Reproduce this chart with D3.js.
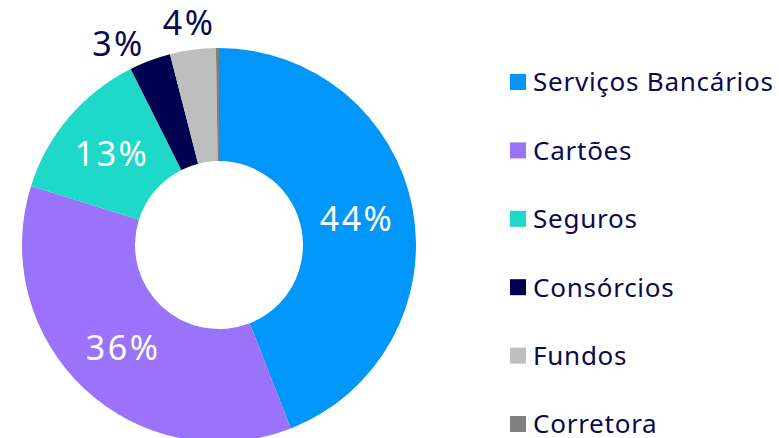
<!DOCTYPE html>
<html>
<head>
    <meta charset="utf-8">
    <script src="https://cdnjs.cloudflare.com/ajax/libs/d3/7.8.5/d3.min.js"></script>
    <style>
        body { margin: 0; background: #fff; }
        text { font-family: "Noto Sans", sans-serif; fill: #0a0a50; }
    </style>
</head>
<body>
    <div id="chart"></div>
    <script>
        // data
        const categories = ["Serviços Bancários", "Cartões", "Seguros", "Consórcios", "Fundos", "Corretora"];
        const shares = [44.05, 35.8, 12.75, 3.4, 3.75, 0.25];
        const labels = ["44%", "36%", "13%", "3%", "4%", ""];
        const colors = ["#0096fa", "#9b72fa", "#1ed8c8", "#000050", "#bebebe", "#808080"];

        const width = 779, height = 438;
        const cx = 219, cy = 245;
        const outerR = 197, innerR = 84;

        const svg = d3.select("#chart").append("svg")
            .attr("width", width)
            .attr("height", height);

        const data = categories.map((c, i) => ({name: c, value: shares[i], label: labels[i], color: colors[i]}));

        const pie = d3.pie().sort(null).value(d => d.value);
        const arc = d3.arc().innerRadius(innerR).outerRadius(outerR);
        const outerArc = d3.arc().innerRadius(224).outerRadius(224);

        const g = svg.append("g").attr("transform", `translate(${cx},${cy})`);
        const arcs = pie(data);

        g.selectAll("path")
            .data(arcs)
            .enter().append("path")
            .attr("d", arc)
            .attr("fill", d => d.data.color);

        // labels: inside for big slices, outside for small ones
        // (the outside one next to Seguros sits a bit further left, like the original)
        g.selectAll("text.lbl")
            .data(arcs.filter(d => d.data.label))
            .enter().append("text")
            .attr("class", "lbl")
            .attr("transform", d => {
                let p;
                if (d.data.value > 8) p = arc.centroid(d);
                else {
                    p = outerArc.centroid(d);
                    if (d.index === 3) p = [p[0] - 22, p[1] + 9];
                }
                return `translate(${p[0]},${p[1]})`;
            })
            .attr("text-anchor", "middle")
            .attr("dy", "0.36em")
            .style("font-size", "34px")
            .style("letter-spacing", "2.5px")
            .style("fill", d => d.data.value > 8 ? "#fff" : "#0a0a50")
            .text(d => d.data.label);

        // legend
        const legend = svg.append("g").attr("transform", "translate(510,82)");
        const item = legend.selectAll("g")
            .data(data)
            .enter().append("g")
            .attr("transform", (d, i) => `translate(0,${i * 68.4})`);

        item.append("rect")
            .attr("x", 0).attr("y", -8)
            .attr("width", 16).attr("height", 16)
            .attr("fill", d => d.color);

        item.append("text")
            .attr("x", 23)
            .attr("dy", "0.36em")
            .style("font-size", "26px")
            .style("letter-spacing", "0.75px")
            .text(d => d.name);
    </script>
</body>
</html>
